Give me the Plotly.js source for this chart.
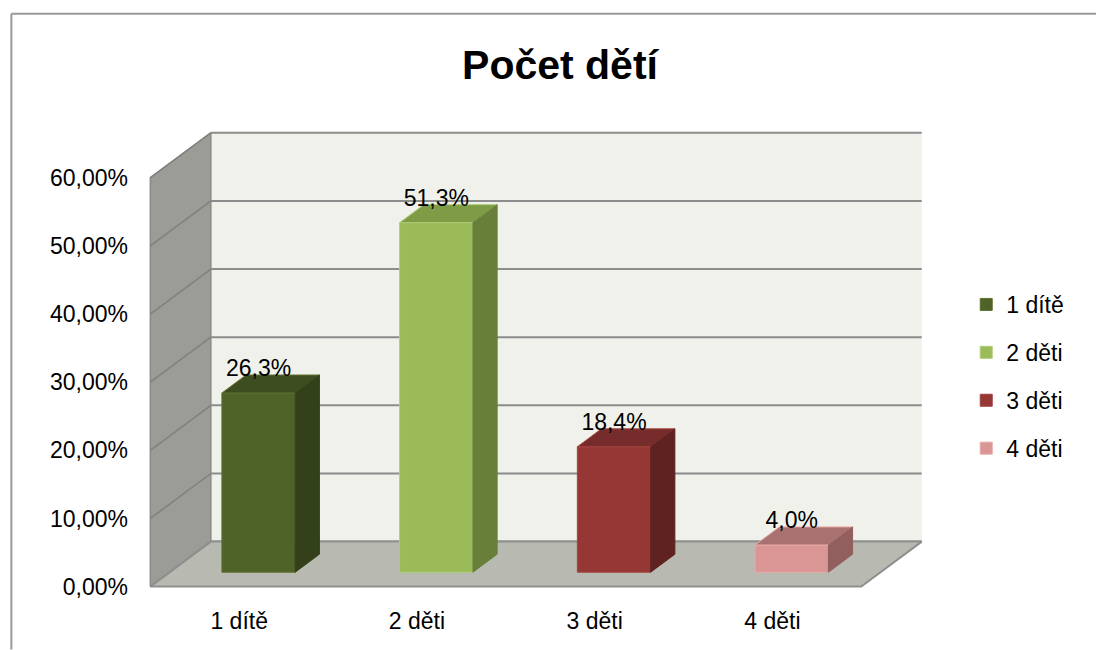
<!DOCTYPE html>
<html>
<head>
<meta charset="utf-8">
<script src="https://cdn.plot.ly/plotly-3.0.1.min.js"></script>
<style>html,body{margin:0;padding:0;background:#fff;overflow:hidden;}#chart{width:1096px;height:650px;}</style>
</head>
<body>
<div id="chart"></div>
<script>
// ---- data ----
var categories = ["1 dítě", "2 děti", "3 děti", "4 děti"];
var values = [26.3, 51.3, 18.4, 4.0];
var valueLabels = ["26,3%", "51,3%", "18,4%", "4,0%"];
var tickValues = [0, 10, 20, 30, 40, 50, 60];
var tickLabels = ["0,00%", "10,00%", "20,00%", "30,00%", "40,00%", "50,00%", "60,00%"];
var frontColors = ["#4f6228", "#9bbb59", "#953735", "#d99694"];
var topColors = ["#3e4d1f", "#7e9b46", "#762c2a", "#a97271"];
var sideColors = ["#334019", "#687f39", "#602221", "#915f5e"];
var edgeColors = ["#5d7231", "#b0cd78", "#a5423f", "#e6a8a6"];

// ---- pseudo-3D projection settings ----
var DX = 0.3404;   // depth shift in x units (back of the box)
var DY = 6.6;      // depth shift in y units
var Z0 = 0.32, Z1 = 0.72; // bar depth span
var W = 0.4125;    // bar width
var FONT = "Liberation Sans, Arial, sans-serif";

var traces = [];
var xLeft = -0.5, xRight = categories.length - 0.5, yTop = tickValues[tickValues.length - 1];

function poly(pts, fill, lineColor, lineWidth, axes) {
  var xs = pts.map(function (p) { return p[0]; }), ys = pts.map(function (p) { return p[1]; });
  xs.push(xs[0]); ys.push(ys[0]);
  return {type: "scatter", mode: "lines", fill: "toself", fillcolor: fill, x: xs, y: ys,
    line: {color: lineColor, width: lineWidth}, showlegend: false, hoverinfo: "skip",
    xaxis: axes ? axes[0] : "x", yaxis: axes ? axes[1] : "y"};
}

// back wall
traces.push(poly([[xLeft + DX, DY], [xRight + DX, DY], [xRight + DX, yTop + DY], [xLeft + DX, yTop + DY]], "#eff1ea", "rgba(0,0,0,0)", 0));
// left wall
traces.push(poly([[xLeft, 0], [xLeft, yTop], [xLeft + DX, yTop + DY], [xLeft + DX, DY]], "#9b9c95", "#8a8a86", 1.5));
// gridlines
var gbx = [], gby = [], glx = [], gly = [];
tickValues.forEach(function (t) {
  gbx.push(xLeft + DX, xRight + DX, null); gby.push(t + DY, t + DY, null);
  glx.push(xLeft, xLeft + DX, null); gly.push(t, t + DY, null);
});
traces.push({type: "scatter", mode: "lines", x: gbx, y: gby, line: {color: "#8c8c8c", width: 2},
  showlegend: false, hoverinfo: "skip", connectgaps: false});
traces.push({type: "scatter", mode: "lines", x: glx, y: gly, line: {color: "#80817c", width: 1.5},
  showlegend: false, hoverinfo: "skip", connectgaps: false});
// floor
traces.push(poly([[xLeft, 0], [xRight, 0], [xRight + DX, DY], [xLeft + DX, DY]], "#b8bab2", "#8f8f8f", 2));

// bars (front faces) on overlay axes so they sit above the walls
categories.forEach(function (c, i) {
  var cx = i + Z0 * DX;
  traces.push({type: "bar", name: c, x: [cx], y: [values[i]], base: [Z0 * DY], width: W,
    xaxis: "x2", yaxis: "y2",
    marker: {color: frontColors[i], line: {color: edgeColors[i], width: 1}},
    hoverinfo: "skip", legendgroup: "g" + i});
});
// top and side faces
categories.forEach(function (c, i) {
  var cx = i + Z0 * DX;
  var a = cx - W / 2, b = cx + W / 2, y0 = Z0 * DY, y1 = Z0 * DY + values[i];
  var ddx = (Z1 - Z0) * DX, ddy = (Z1 - Z0) * DY;
  traces.push(poly([[a, y1], [b, y1], [b + ddx, y1 + ddy], [a + ddx, y1 + ddy]], topColors[i], edgeColors[i], 1, ["x2", "y2"]));
  traces.push(poly([[b, y0], [b, y1], [b + ddx, y1 + ddy], [b + ddx, y0 + ddy]], sideColors[i], sideColors[i], 1, ["x2", "y2"]));
});
// data labels
traces.push({type: "scatter", mode: "text", showlegend: false, hoverinfo: "skip", cliponaxis: false,
  xaxis: "x2", yaxis: "y2",
  x: categories.map(function (c, i) { return i + Z0 * DX; }),
  y: values.map(function (v) { return v + Z1 * DY - 1.0; }),
  text: valueLabels, textposition: "top center",
  textfont: {family: FONT, size: 23, color: "#000"}});

var U = 177.75, V = 6.817;
var xr0 = -0.53, xr1 = 3.87, yr0 = -0.5, yr1 = 67.3;
var ml = 150 - (-0.5 - xr0) * U;
var pw = (xr1 - xr0) * U;
var mr = 1096 - ml - pw;
var mb = 650 - 587 + yr0 * V;
var ph = (yr1 - yr0) * V;
var mt = 650 - mb - ph;
function px2fx(px) { return (px - ml) / pw; }
function py2fy(py) { return (650 - py - mb) / ph; }

var bx0 = px2fx(11), bx1 = px2fx(1096), by0 = py2fy(650), by1 = py2fy(14);

var layout = {
  width: 1096, height: 650,
  paper_bgcolor: "#ffffff", plot_bgcolor: "rgba(0,0,0,0)",
  margin: {l: ml, r: mr, t: mt, b: mb, autoexpand: false},
  barmode: "overlay",
  font: {family: FONT, size: 23, color: "#000"},
  title: {text: "<b>Počet dětí</b>", font: {family: FONT, size: 41, color: "#000"},
    x: 560 / 1096, xanchor: "center", y: 1 - 64.5 / 650, yanchor: "middle", xref: "container", yref: "container"},
  xaxis: {range: [xr0, xr1], tickvals: [0, 1, 2, 3], ticktext: categories, showgrid: false,
    zeroline: false, showline: false, ticks: "", ticklabelstandoff: 15, fixedrange: true,
    tickfont: {family: FONT, size: 23, color: "#000"}},
  yaxis: {range: [yr0, yr1], tickvals: tickValues, ticktext: tickLabels, showgrid: false,
    zeroline: false, showline: false, ticks: "", ticklabelstandoff: 16, fixedrange: true,
    tickfont: {family: FONT, size: 23, color: "#000"}},
  xaxis2: {range: [xr0, xr1], overlaying: "x", visible: false, fixedrange: true},
  yaxis2: {range: [yr0, yr1], overlaying: "y", visible: false, fixedrange: true},
  legend: {x: px2fx(966), xanchor: "left", y: 1 - 376.5 / 650, yanchor: "middle", yref: "container",
    font: {family: FONT, size: 23, color: "#000"}, traceorder: "grouped", tracegroupgap: 15,
    bgcolor: "rgba(0,0,0,0)"},
  shapes: [
    {type: "line", xref: "paper", yref: "paper", x0: bx0, x1: bx0, y0: by0, y1: by1,
      line: {color: "#9a9a9a", width: 2}, layer: "below"},
    {type: "line", xref: "paper", yref: "paper", x0: bx0, x1: bx1, y0: by1, y1: by1,
      line: {color: "#9a9a9a", width: 2}, layer: "below"}
  ],
  showlegend: true
};

Plotly.newPlot("chart", traces, layout, {displayModeBar: false, staticPlot: true});
</script>
</body>
</html>
